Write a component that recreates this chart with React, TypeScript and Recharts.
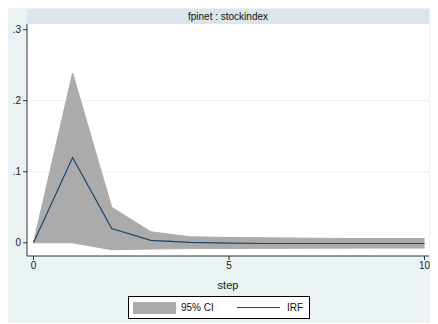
import React from "react";
import { ComposedChart, Area, Line, XAxis, YAxis, CartesianGrid, Legend } from "recharts";

const steps = [0, 1, 2, 3, 4, 5, 6, 7, 8, 9, 10];
const irf = [0, 0.12, 0.02, 0.0035, 0.0005, -0.0005, -0.001, -0.001, -0.001, -0.001, -0.001];
const ciUpper = [0, 0.239, 0.05, 0.0155, 0.0085, 0.0075, 0.007, 0.0065, 0.006, 0.006, 0.006];
const ciLower = [0, 0, -0.0098, -0.0088, -0.0082, -0.008, -0.0078, -0.0076, -0.0075, -0.0074, -0.0074];
const yTicks = [0, 0.1, 0.2, 0.3];
const xTicks = [0, 5, 10];
const title = "fpinet : stockindex";

const data = steps.map((s, i) => ({ step: s, irf: irf[i], ci: [ciLower[i], ciUpper[i]] }));

const FONT = "'Liberation Sans', Arial, sans-serif";
const BG = "#eaf2f3";
const BAND = "#d9e6eb";
const CI_FILL = "#ababab";
const IRF_COLOR = "#1a476f";

const fmtY = (v: number) => (v === 0 ? "0" : String(v).replace(/^0/, ""));

const LegendBox = () => (
  <div
    style={{
      position: "absolute",
      left: 120,
      top: 289,
      width: 182,
      height: 23,
      border: "1px solid #000",
      background: "#fff",
      fontFamily: FONT,
      fontSize: 10,
      color: "#111",
      boxSizing: "border-box",
    }}
  >
    <div style={{ position: "absolute", left: 4, top: 5, width: 43, height: 12, background: CI_FILL }} />
    <div style={{ position: "absolute", left: 52, top: 4, lineHeight: "13px" }}>95% CI</div>
    <div style={{ position: "absolute", left: 108, top: 10, width: 43, height: 0, borderTop: `1px solid ${IRF_COLOR}` }} />
    <div style={{ position: "absolute", left: 158, top: 4, lineHeight: "13px" }}>IRF</div>
  </div>
);

export default function App() {
  return (
    <div style={{ position: "relative", width: 430, height: 316, background: BG, marginTop: -1 }}>
      <div
        style={{
          position: "absolute",
          left: 19,
          top: 2,
          width: 402,
          height: 15,
          background: BAND,
          fontFamily: FONT,
          fontSize: 10,
          lineHeight: "15px",
          textAlign: "center",
          color: "#111",
        }}
      >
        {title}
      </div>
      <ComposedChart
        width={430}
        height={316}
        data={data}
        margin={{ top: 17, right: 9, bottom: 34, left: 0 }}
        style={{ fontFamily: FONT }}
      >
        <CartesianGrid
          vertical={false}
          stroke={BG}
          fill="#ffffff"
          horizontalValues={[0.1, 0.2]}
        />
        <XAxis
          dataKey="step"
          type="number"
          domain={[0, 10]}
          ticks={xTicks}
          padding={{ left: 6.5, right: 4.5 }}
          height={33}
          tickSize={4}
          tickMargin={2}
          stroke="#333"
          tick={{ fill: "#222", fontSize: 10 }}
          label={{ value: "step", position: "insideBottom", offset: 0, fill: "#222", fontSize: 11 }}
        />
        <YAxis
          type="number"
          domain={[-0.0186, 0.308]}
          allowDataOverflow
          ticks={yTicks}
          tickFormatter={fmtY}
          width={19}
          tickSize={4}
          tickMargin={2}
          stroke="#333"
          tick={{ fill: "#222", fontSize: 10 }}
        />
        <Area
          type="linear"
          dataKey="ci"
          name="95% CI"
          fill={CI_FILL}
          fillOpacity={1}
          stroke={CI_FILL}
          strokeWidth={1}
          isAnimationActive={false}
        />
        <Line
          type="linear"
          dataKey="irf"
          name="IRF"
          stroke={IRF_COLOR}
          strokeWidth={1.2}
          dot={false}
          isAnimationActive={false}
        />
        <Legend content={() => null} />
      </ComposedChart>
      <LegendBox />
    </div>
  );
}
